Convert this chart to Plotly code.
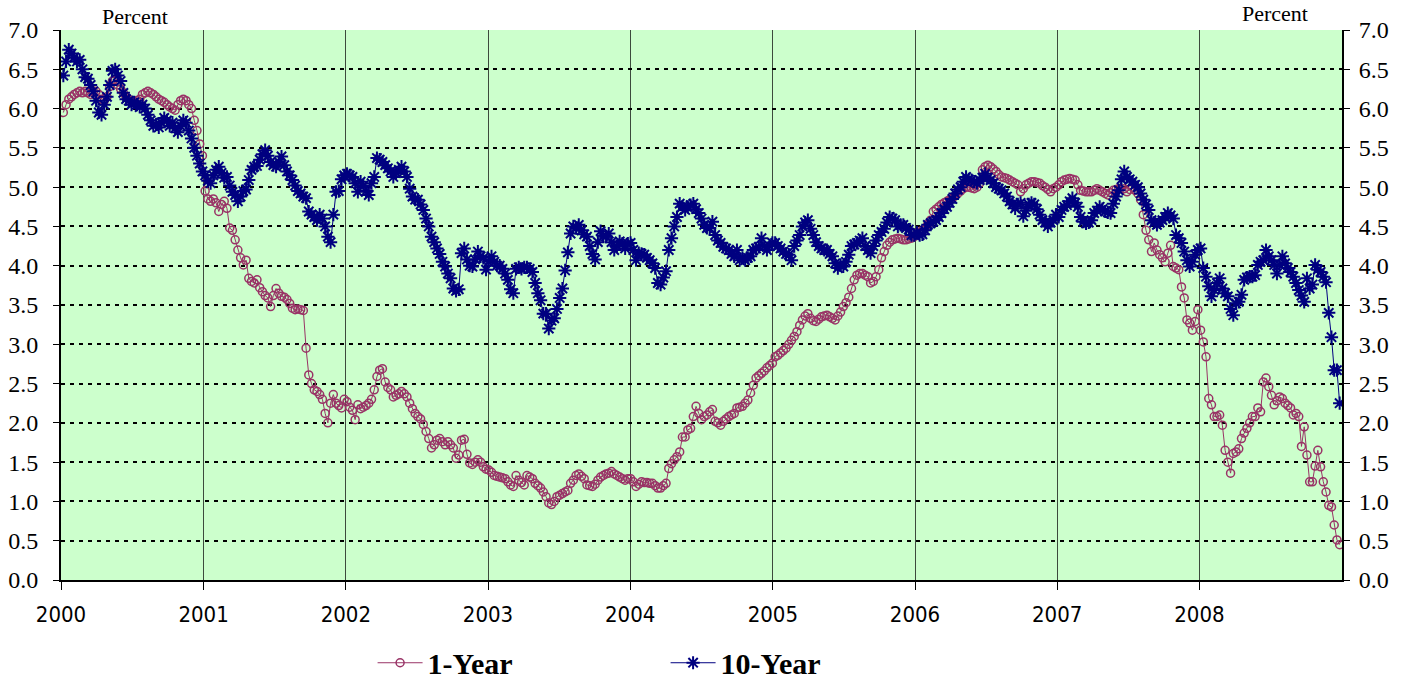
import pandas as pd
import plotly.graph_objects as go

# ---------------- data (weekly) ----------------
years = [2000, 2001, 2002, 2003, 2004, 2005, 2006, 2007, 2008]
year_labels = ["2000", "2001", "2002", "2003", "2004", "2005", "2006", "2007", "2008"]

one_year_2000 = [5.95, 6.05, 6.12, 6.15, 6.18, 6.20, 6.22, 6.20, 6.22, 6.20,
                 6.18, 6.22, 6.22, 6.18, 6.12, 6.10, 6.15, 6.28, 6.35, 6.36,
                 6.30, 6.25, 6.20, 6.15, 6.12, 6.10, 6.08, 6.10, 6.12, 6.18,
                 6.20, 6.22, 6.20, 6.18, 6.15, 6.12, 6.10, 6.08, 6.05, 6.02,
                 6.00, 5.98, 6.05, 6.10, 6.12, 6.10, 6.05, 6.00, 5.85, 5.72,
                 5.55, 5.40]
one_year_2001 = [4.95, 4.85, 4.82, 4.85, 4.80, 4.69, 4.78, 4.82, 4.73, 4.48,
                 4.45, 4.33, 4.20, 4.10, 4.01, 4.07, 3.84, 3.80, 3.78, 3.82,
                 3.72, 3.67, 3.62, 3.59, 3.48, 3.62, 3.71, 3.65, 3.61, 3.60,
                 3.57, 3.52, 3.46, 3.44, 3.45, 3.44, 3.43, 2.95, 2.61, 2.50,
                 2.42, 2.40, 2.36, 2.30, 2.12, 2.00, 2.25, 2.36, 2.25, 2.22,
                 2.19, 2.30]
one_year_2002 = [2.27, 2.20, 2.16, 2.04, 2.23, 2.18, 2.20, 2.22, 2.25, 2.30,
                 2.42, 2.59, 2.67, 2.69, 2.52, 2.45, 2.42, 2.33, 2.35, 2.37,
                 2.40, 2.37, 2.33, 2.25, 2.18, 2.12, 2.08, 2.05, 1.98, 1.89,
                 1.80, 1.68, 1.72, 1.78, 1.80, 1.76, 1.72, 1.76, 1.72, 1.68,
                 1.55, 1.59, 1.78, 1.79, 1.60, 1.49, 1.47, 1.50, 1.53, 1.50,
                 1.44, 1.41]
one_year_2003 = [1.40, 1.37, 1.33, 1.32, 1.31, 1.30, 1.29, 1.25, 1.21, 1.19,
                 1.33, 1.27, 1.24, 1.21, 1.33, 1.31, 1.29, 1.23, 1.20, 1.17,
                 1.12, 1.06, 0.98, 0.96, 1.00, 1.06, 1.08, 1.10, 1.12, 1.14,
                 1.23, 1.27, 1.33, 1.35, 1.32, 1.29, 1.21, 1.20, 1.19, 1.22,
                 1.27, 1.31, 1.33, 1.35, 1.36, 1.38, 1.35, 1.33, 1.31, 1.29,
                 1.27, 1.29]
one_year_2004 = [1.29, 1.25, 1.19, 1.22, 1.25, 1.24, 1.24, 1.23, 1.23, 1.20,
                 1.17, 1.17, 1.20, 1.23, 1.42, 1.48, 1.53, 1.57, 1.63, 1.82,
                 1.82, 1.91, 1.93, 2.08, 2.21, 2.12, 2.04, 2.08, 2.10, 2.14,
                 2.17, 2.02, 2.00, 1.97, 2.02, 2.05, 2.08, 2.10, 2.12, 2.19,
                 2.20, 2.21, 2.25, 2.29, 2.38, 2.48, 2.57, 2.60, 2.63, 2.66,
                 2.70, 2.73, 2.76]
one_year_2005 = [2.84, 2.86, 2.89, 2.92, 2.95, 3.00, 3.05, 3.10, 3.16, 3.24,
                 3.31, 3.36, 3.39, 3.33, 3.30, 3.29, 3.32, 3.35, 3.36, 3.37,
                 3.35, 3.33, 3.31, 3.36, 3.41, 3.48, 3.53, 3.60, 3.71, 3.82,
                 3.88, 3.90, 3.90, 3.88, 3.86, 3.78, 3.80, 3.86, 3.95, 4.10,
                 4.18, 4.26, 4.30, 4.33, 4.34, 4.35, 4.34, 4.33, 4.33, 4.34,
                 4.35, 4.37]
one_year_2006 = [4.41, 4.43, 4.45, 4.48, 4.53, 4.58, 4.69, 4.72, 4.75, 4.78,
                 4.80, 4.82, 4.84, 4.86, 4.89, 4.92, 4.95, 4.98, 5.00, 5.00,
                 4.99, 4.98, 5.00, 5.05, 5.22, 5.26, 5.28, 5.26, 5.23, 5.20,
                 5.16, 5.13, 5.12, 5.11, 5.09, 5.07, 5.05, 5.03, 4.94, 4.98,
                 5.03, 5.05, 5.07, 5.07, 5.06, 5.05, 5.02, 5.00, 4.97, 4.94,
                 4.98, 5.00]
one_year_2007 = [5.03, 5.07, 5.09, 5.10, 5.11, 5.10, 5.09, 5.03, 4.96, 4.95,
                 4.94, 4.94, 4.94, 4.96, 4.98, 4.96, 4.94, 4.92, 4.90, 4.93,
                 4.96, 4.97, 4.98, 5.03, 4.98, 4.94, 4.97, 5.00, 4.96, 4.92,
                 4.84, 4.65, 4.45, 4.33, 4.18, 4.29, 4.20, 4.14, 4.10, 4.05,
                 4.16, 4.26, 3.99, 3.97, 3.95, 3.73, 3.59, 3.31, 3.27, 3.18,
                 3.29, 3.44]
one_year_2008 = [3.18, 3.03, 2.84, 2.31, 2.23, 2.08, 2.08, 2.10, 1.97, 1.65,
                 1.50, 1.36, 1.61, 1.63, 1.67, 1.80, 1.87, 1.93, 2.00, 2.08,
                 2.08, 2.19, 2.14, 2.52, 2.57, 2.46, 2.35, 2.23, 2.28, 2.33,
                 2.31, 2.25, 2.22, 2.19, 2.10, 2.12, 2.08, 1.70, 1.95, 1.59,
                 1.25, 1.25, 1.45, 1.65, 1.44, 1.25, 1.12, 0.95, 0.93, 0.70,
                 0.51, 0.45]

ten_year_2000 = [6.42, 6.60, 6.75, 6.70, 6.65, 6.60, 6.62, 6.50, 6.40, 6.38,
                 6.30, 6.22, 6.10, 5.95, 5.92, 6.05, 6.15, 6.30, 6.48, 6.50,
                 6.42, 6.35, 6.20, 6.12, 6.10, 6.05, 6.08, 6.05, 6.02, 6.05,
                 6.00, 5.92, 5.85, 5.78, 5.80, 5.76, 5.82, 5.88, 5.85, 5.78,
                 5.82, 5.75, 5.70, 5.78, 5.85, 5.82, 5.72, 5.62, 5.50, 5.40,
                 5.30, 5.20]
ten_year_2001 = [5.15, 5.08, 5.05, 5.15, 5.22, 5.26, 5.18, 5.12, 5.13, 5.02,
                 4.94, 4.90, 4.82, 4.88, 4.95, 4.97, 5.09, 5.22, 5.26, 5.27,
                 5.35, 5.42, 5.47, 5.40, 5.32, 5.28, 5.26, 5.32, 5.39, 5.28,
                 5.20, 5.15, 5.09, 5.02, 4.95, 4.92, 4.88, 4.86, 4.69, 4.65,
                 4.62, 4.58, 4.65, 4.60, 4.50, 4.37, 4.30, 4.65, 4.94, 4.95,
                 5.10, 5.15]
ten_year_2002 = [5.17, 5.15, 5.13, 5.05, 4.94, 5.07, 5.02, 4.95, 4.90, 5.05,
                 5.13, 5.37, 5.35, 5.32, 5.28, 5.24, 5.20, 5.13, 5.18, 5.22,
                 5.26, 5.20, 5.13, 4.98, 4.88, 4.84, 4.84, 4.78, 4.71, 4.60,
                 4.50, 4.37, 4.30, 4.22, 4.15, 4.05, 3.99, 3.90, 3.84, 3.71,
                 3.68, 3.70, 4.16, 4.22, 4.08, 4.00, 3.99, 4.08, 4.18, 4.12,
                 4.10, 3.95]
ten_year_2003 = [4.05, 4.12, 4.05, 4.00, 4.00, 3.96, 3.90, 3.82, 3.70, 3.65,
                 3.96, 3.98, 3.96, 3.98, 3.98, 3.96, 3.92, 3.78, 3.65, 3.56,
                 3.39, 3.39, 3.20, 3.30, 3.33, 3.45, 3.59, 3.71, 3.94, 4.17,
                 4.41, 4.50, 4.48, 4.52, 4.45, 4.40, 4.37, 4.25, 4.15, 4.08,
                 4.30, 4.44, 4.38, 4.37, 4.41, 4.30, 4.20, 4.25, 4.31, 4.28,
                 4.22, 4.28]
ten_year_2004 = [4.29, 4.20, 4.07, 4.16, 4.15, 4.14, 4.10, 4.07, 4.03, 3.97,
                 3.78, 3.76, 3.85, 3.93, 4.20, 4.35, 4.50, 4.62, 4.79, 4.75,
                 4.71, 4.75, 4.77, 4.79, 4.72, 4.67, 4.60, 4.52, 4.48, 4.48,
                 4.56, 4.39, 4.32, 4.29, 4.24, 4.22, 4.20, 4.15, 4.12, 4.20,
                 4.07, 4.10, 4.07, 4.10, 4.12, 4.20, 4.22, 4.24, 4.35, 4.25,
                 4.20, 4.25, 4.29]
ten_year_2005 = [4.29, 4.25, 4.22, 4.18, 4.15, 4.14, 4.07, 4.25, 4.32, 4.39,
                 4.50, 4.55, 4.58, 4.47, 4.39, 4.30, 4.25, 4.22, 4.20, 4.20,
                 4.15, 4.12, 4.03, 3.97, 4.01, 3.99, 4.05, 4.14, 4.25, 4.27,
                 4.29, 4.32, 4.35, 4.25, 4.20, 4.16, 4.25, 4.32, 4.39, 4.43,
                 4.47, 4.55, 4.62, 4.60, 4.58, 4.50, 4.52, 4.52, 4.48, 4.46,
                 4.39, 4.39]
ten_year_2006 = [4.42, 4.39, 4.40, 4.45, 4.52, 4.54, 4.56, 4.58, 4.62, 4.67,
                 4.72, 4.75, 4.80, 4.85, 4.92, 4.97, 5.00, 5.07, 5.13, 5.10,
                 5.09, 5.07, 5.05, 5.09, 5.12, 5.17, 5.12, 5.09, 5.05, 5.00,
                 4.98, 4.96, 4.92, 4.88, 4.82, 4.78, 4.73, 4.78, 4.80, 4.63,
                 4.70, 4.78, 4.80, 4.78, 4.72, 4.65, 4.58, 4.55, 4.50, 4.55,
                 4.58, 4.65]
ten_year_2007 = [4.62, 4.71, 4.75, 4.77, 4.82, 4.86, 4.80, 4.75, 4.62, 4.56,
                 4.54, 4.55, 4.58, 4.67, 4.70, 4.75, 4.72, 4.69, 4.68, 4.67,
                 4.79, 4.88, 4.96, 5.10, 5.20, 5.13, 5.10, 5.07, 5.03, 5.00,
                 4.92, 4.84, 4.78, 4.71, 4.58, 4.55, 4.52, 4.55, 4.58, 4.62,
                 4.67, 4.64, 4.60, 4.39, 4.35, 4.29, 4.18, 4.07, 3.99, 4.05,
                 4.14, 4.20]
ten_year_2008 = [4.22, 3.97, 3.86, 3.74, 3.61, 3.69, 3.78, 3.84, 3.71, 3.65,
                 3.61, 3.45, 3.37, 3.52, 3.54, 3.63, 3.82, 3.85, 3.86, 3.86,
                 3.88, 4.01, 4.05, 4.07, 4.20, 4.12, 4.07, 4.01, 3.90, 4.01,
                 4.12, 4.03, 3.97, 3.92, 3.86, 3.78, 3.69, 3.62, 3.54, 3.84,
                 3.71, 3.76, 4.01, 3.95, 3.92, 3.86, 3.79, 3.40, 3.09, 2.67,
                 2.67, 2.25]

one_year = [one_year_2000, one_year_2001, one_year_2002, one_year_2003, one_year_2004,
            one_year_2005, one_year_2006, one_year_2007, one_year_2008]
ten_year = [ten_year_2000, ten_year_2001, ten_year_2002, ten_year_2003, ten_year_2004,
            ten_year_2005, ten_year_2006, ten_year_2007, ten_year_2008]


def weekly(series_by_year):
    dates, vals = [], []
    for yr, v in zip(years, series_by_year):
        d = pd.date_range(f"{yr}-01-01", periods=len(v), freq="W-FRI")
        dates.extend(list(d))
        vals.extend(v)
    return dates, vals


d1, v1 = weekly(one_year)
d10, v10 = weekly(ten_year)

RED = "#993366"
BLUE = "#000080"
SERIF = "Liberation Serif, Times New Roman, serif"

fig = go.Figure()
fig.add_trace(go.Scatter(
    x=d1, y=v1, name="<b>1-Year</b>", mode="lines+markers",
    line=dict(color=RED, width=1),
    marker=dict(symbol="circle-open", size=8, color=RED, line=dict(width=1.5, color=RED)),
))
fig.add_trace(go.Scatter(
    x=d10, y=v10, name="<b>10-Year</b>", mode="lines+markers",
    line=dict(color=BLUE, width=1),
    marker=dict(symbol="asterisk-open", size=11, color=BLUE, line=dict(width=2, color=BLUE)),
))
# invisible trace so the right-hand axis is drawn
fig.add_trace(go.Scatter(x=d10, y=v10, yaxis="y2", mode="lines", line=dict(width=0),
                         opacity=0, showlegend=False, hoverinfo="skip"))

tickvals = [f"{y}-01-01" for y in years]

fig.update_layout(
    width=1406, height=681,
    margin=dict(l=61, r=64, t=30, b=101),
    paper_bgcolor="white",
    plot_bgcolor="#CCFFCC",
    font=dict(family=SERIF, color="black"),
    xaxis=dict(
        range=["2000-01-01", "2009-01-01"],
        tickvals=tickvals, ticktext=year_labels,
        ticks="outside", ticklen=8, tickcolor="black", tickwidth=1,
        showgrid=True, gridcolor="#3c4a3c", gridwidth=1,
        showline=True, linecolor="black", linewidth=2,
        tickfont=dict(family="DejaVu Sans Condensed, Liberation Sans Narrow, sans-serif", size=22),
        ticklabelstandoff=6,
        zeroline=False, automargin=False,
    ),
    yaxis=dict(
        range=[0, 7], dtick=0.5, tick0=0, tickformat=".1f",
        ticks="outside", ticklen=6, tickcolor="black",
        showgrid=True, gridcolor="black", gridwidth=1.5, griddash="4px,5px",
        showline=True, linecolor="black", linewidth=2,
        tickfont=dict(family=SERIF, size=24),
        ticklabelstandoff=10,
        zeroline=False, automargin=False,
    ),
    yaxis2=dict(
        range=[0, 7], dtick=0.5, tick0=0, tickformat=".1f",
        overlaying="y", side="right",
        ticks="outside", ticklen=6, tickcolor="black",
        showgrid=False, showline=True, linecolor="black", linewidth=2,
        tickfont=dict(family=SERIF, size=24),
        ticklabelstandoff=4,
        zeroline=False, automargin=False,
    ),
    legend=dict(
        orientation="h", xref="container", yref="container",
        x=0.265, xanchor="left", y=0.065, yanchor="top",
        font=dict(family=SERIF, size=30, color="black"),
        entrywidth=233, entrywidthmode="pixels", itemwidth=45,
        bgcolor="rgba(0,0,0,0)",
    ),
    showlegend=True,
    annotations=[
        dict(text="Percent", xref="paper", yref="paper", x=0.058, y=1.0, yanchor="bottom",
             xanchor="center", showarrow=False, font=dict(family=SERIF, size=22), yshift=-1),
        dict(text="Percent", xref="paper", yref="paper", x=0.948, y=1.0, yanchor="bottom",
             xanchor="center", showarrow=False, font=dict(family=SERIF, size=22), yshift=2),
    ],
)

fig.write_html("out.html", config={"displayModeBar": False},
               post_script="document.body.style.margin='0px';document.body.style.overflow='hidden';")
